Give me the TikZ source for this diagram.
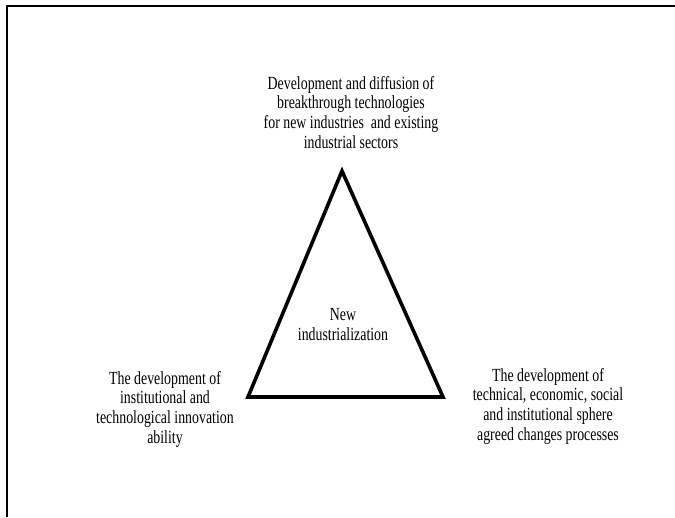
\documentclass[tikz,border=0pt]{standalone}
\usepackage{fontspec}
\setmainfont{Liberation Serif}[FakeStretch=0.75]
\begin{document}
\begin{tikzpicture}[x=1pt,y=-1pt,
  lbl/.style={align=center,inner sep=0pt,anchor=base,font=\fontsize{18.5}{19.6}\selectfont},
  tri/.style={line width=3.6pt,line join=miter}]
\useasboundingbox (0,0) rectangle (675,517);
\draw[line width=2.6pt] (7,517) -- (7,6) -- (675,6);
\coordinate (apex) at (342,171);
\coordinate (bl) at (248,397);
\coordinate (br) at (443,397);
\draw[tri] (apex) -- (br) -- (bl) -- cycle;
\node[lbl] (top) at (351,148) {Development and diffusion of\\breakthrough technologies\\for new industries\ \ and existing\\industrial sectors};
\node[lbl] (ctr) at (343,340) {New\\industrialization};
\node[lbl] (left) at (165,443) {The development of\\institutional and\\technological innovation\\ability};
\node[lbl] (right) at (548,440) {The development of\\technical, economic, social\\and institutional sphere\\agreed changes processes};
\end{tikzpicture}
\end{document}
